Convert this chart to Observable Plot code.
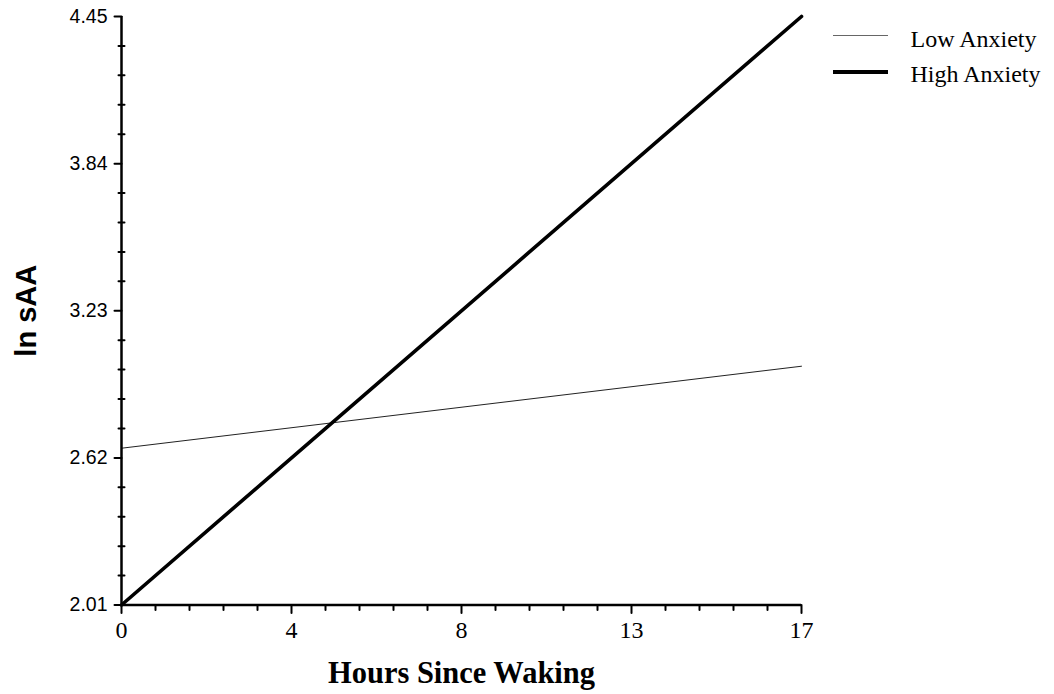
<!DOCTYPE html>
<html><head><meta charset="utf-8">
<script src="https://cdn.jsdelivr.net/npm/d3@7"></script>
<script src="https://cdn.jsdelivr.net/npm/@observablehq/plot@0.6"></script>
<style>body{margin:0;background:#fff}</style>
</head><body><div id="chart"></div>
<script>
const hours = [0, 17];
const lowAnxiety = [2.66, 3.00];
const highAnxiety = [2.01, 4.45];
const xTickValues = [0, 4.25, 8.5, 12.75, 17];
const xTickLabels = ["0", "4", "8", "13", "17"];
const yTickValues = [2.01, 2.62, 3.23, 3.84, 4.45];
const yTickLabels = ["2.01", "2.62", "3.23", "3.84", "4.45"];
const seriesNames = ["Low Anxiety", "High Anxiety"];
const xTitle = "Hours Since Waking";
const yTitle = "ln sAA";

function minorBetween(majors, n) {
  const out = [];
  for (let i = 0; i < majors.length - 1; i++) {
    const a = majors[i], b = majors[i + 1];
    for (let k = 1; k < n; k++) out.push(a + (b - a) * k / n);
  }
  return out;
}
const xMinor = minorBetween(xTickValues, 5);
const yMinor = minorBetween(yTickValues, 5);

const low = hours.map((h, i) => ({hours: h, value: lowAnxiety[i]}));
const high = hours.map((h, i) => ({hours: h, value: highAnxiety[i]}));

const tickShape = {draw(ctx, l) { ctx.moveTo(0, 0); ctx.lineTo(0, -l); }};
const SANS = "Liberation Sans, Arial, sans-serif";
const SERIF = "Liberation Serif, Times New Roman, serif";

const chart = Plot.plot({
  width: 1054, height: 694,
  marginLeft: 121, marginRight: 253, marginTop: 16, marginBottom: 89.5,
  x: {domain: [0, 17], axis: null},
  y: {domain: [2.01, 4.45], axis: null},
  style: {background: "white", color: "black", overflow: "visible"},
  marks: [
    Plot.line(low, {x: "hours", y: "value", stroke: "#222", strokeWidth: 1}),
    Plot.line(high, {x: "hours", y: "value", stroke: "black", strokeWidth: 3.6}),
    Plot.ruleX([0], {stroke: "black", strokeWidth: 2.5}),
    Plot.ruleY([2.01], {stroke: "black", strokeWidth: 2.5}),
    Plot.vector(xTickValues, {x: d => d, y: 2.01, length: 8, rotate: 180, anchor: "start", shape: tickShape, stroke: "black", strokeWidth: 2}),
    Plot.vector(xMinor, {x: d => d, y: 2.01, length: 5, rotate: 180, anchor: "start", shape: tickShape, stroke: "black", strokeWidth: 2}),
    Plot.vector(yTickValues, {x: 0, y: d => d, length: 7, rotate: -90, anchor: "start", shape: tickShape, stroke: "black", strokeWidth: 2}),
    Plot.vector(yMinor, {x: 0, y: d => d, length: 6, rotate: 90, anchor: "middle", shape: tickShape, stroke: "black", strokeWidth: 2}),
    Plot.text(xTickValues, {x: d => d, frameAnchor: "bottom", text: (d, i) => xTickLabels[i], dy: 25.5, lineAnchor: "middle", textAnchor: "middle", fontSize: 24, fontFamily: SERIF, fill: "black"}),
    Plot.text(yTickValues, {y: d => d, frameAnchor: "left", text: (d, i) => yTickLabels[i], dx: -14, lineAnchor: "middle", textAnchor: "end", fontSize: 19.5, fontFamily: SANS, fill: "black"}),
    Plot.text([xTitle], {frameAnchor: "bottom", text: d => d, dy: 78, lineAnchor: "bottom", textAnchor: "middle", fontSize: 32, fontWeight: "bold", fontFamily: SERIF, fill: "black", className: "xtitle"}),
    Plot.text([yTitle], {frameAnchor: "left", text: d => d, rotate: -90, dx: -86, lineAnchor: "bottom", textAnchor: "middle", fontSize: 29, fontWeight: "bold", fontFamily: SANS, fill: "black"}),
    Plot.text([seriesNames[0]], {frameAnchor: "top-right", text: d => d, dx: 109, dy: 30.5, lineAnchor: "bottom", textAnchor: "start", fontSize: 24, fontFamily: SERIF, fill: "black"}),
    Plot.text([seriesNames[1]], {frameAnchor: "top-right", text: d => d, dx: 109, dy: 65, lineAnchor: "bottom", textAnchor: "start", fontSize: 24, fontFamily: SERIF, fill: "black"})
  ]
});
document.getElementById("chart").appendChild(chart);

const svg = d3.select(chart);
// the reference title is drawn slightly condensed
svg.selectAll(".xtitle text").attr("textLength", 267).attr("lengthAdjust", "spacingAndGlyphs");
// legend swatches
const lg = svg.append("g");
lg.append("line").attr("x1", 833).attr("x2", 888).attr("y1", 35.5).attr("y2", 35.5).attr("stroke", "#666").attr("stroke-width", 1);
lg.append("line").attr("x1", 833).attr("x2", 888).attr("y1", 72).attr("y2", 72).attr("stroke", "black").attr("stroke-width", 4);
</script>
</body></html>
